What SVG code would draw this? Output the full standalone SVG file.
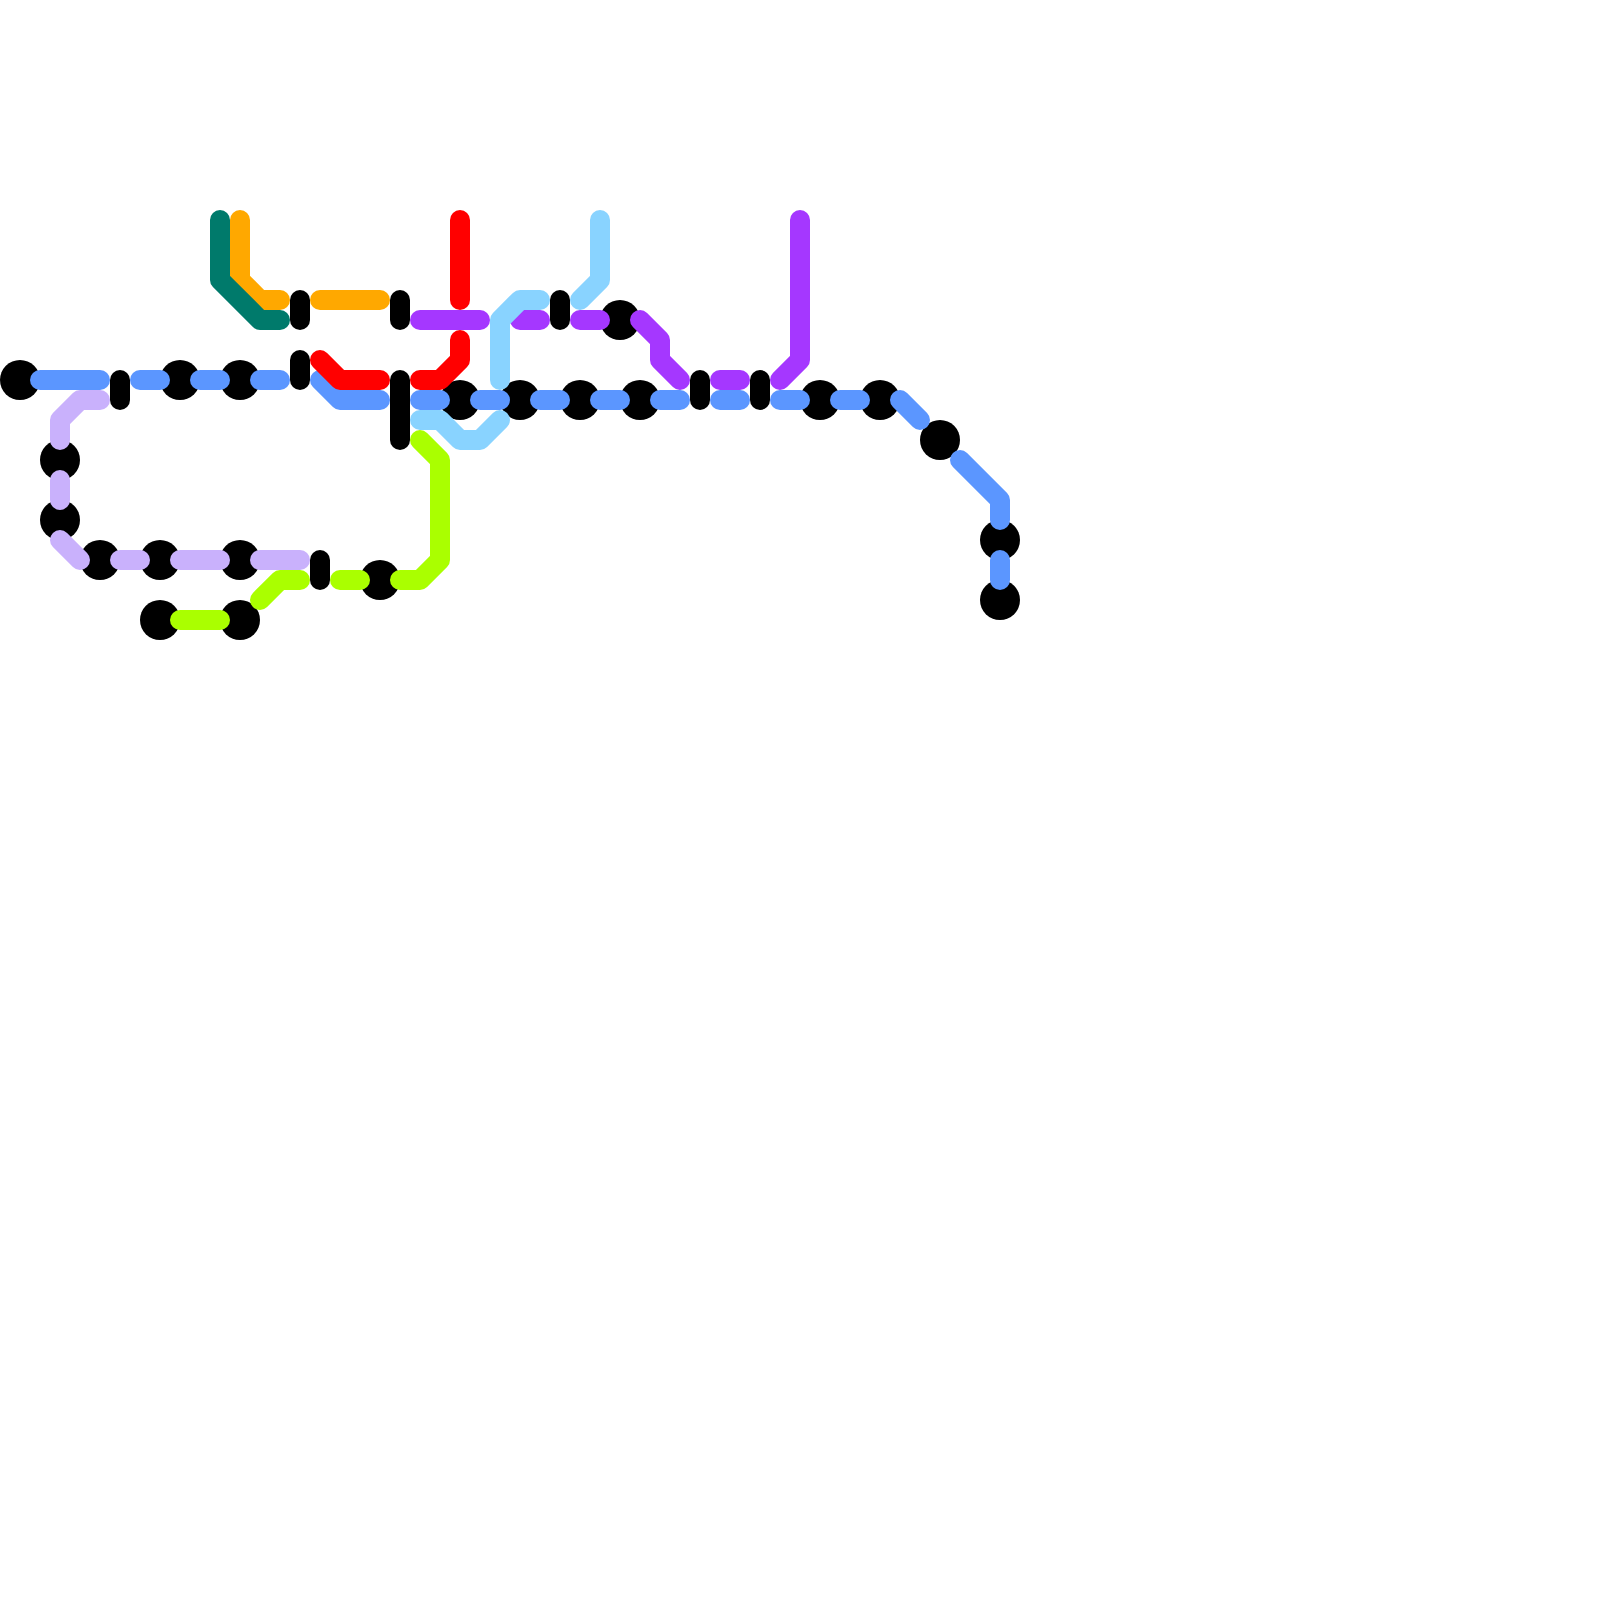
<svg xmlns="http://www.w3.org/2000/svg" width="1600" height="1600" viewBox="0 0 1600 1600">
<style>
.stn{fill:#000}
.bar{stroke:#000;stroke-width:20;stroke-linecap:round;fill:none}
#connectors path{fill:none;stroke-width:20;stroke-linecap:round;stroke-linejoin:round}
.blue{stroke:#5b96ff}
.lilac{stroke:#c9b1fc}
.lime{stroke:#aaff00}
.teal{stroke:#007a6b}
.orange{stroke:#ffa800}
.red{stroke:#ff0000}
.purple{stroke:#a537ff}
.sky{stroke:#89d3ff}
</style>
<rect width="1600" height="1600" fill="#fff"/>
<g id="stations">
<g id="s1"><circle class="stn" cx="20" cy="380" r="20"/></g>
<g id="s2"><circle class="stn" cx="180" cy="380" r="20"/></g>
<g id="s3"><circle class="stn" cx="240" cy="380" r="20"/></g>
<g id="s4"><circle class="stn" cx="60" cy="460" r="20"/></g>
<g id="s5"><circle class="stn" cx="60" cy="520" r="20"/></g>
<g id="s6"><circle class="stn" cx="100" cy="560" r="20"/></g>
<g id="s7"><circle class="stn" cx="160" cy="560" r="20"/></g>
<g id="s8"><circle class="stn" cx="240" cy="560" r="20"/></g>
<g id="s9"><circle class="stn" cx="160" cy="620" r="20"/></g>
<g id="s10"><circle class="stn" cx="240" cy="620" r="20"/></g>
<g id="s11"><circle class="stn" cx="380" cy="580" r="20"/></g>
<g id="s12"><circle class="stn" cx="460" cy="400" r="20"/></g>
<g id="s13"><circle class="stn" cx="520" cy="400" r="20"/></g>
<g id="s14"><circle class="stn" cx="580" cy="400" r="20"/></g>
<g id="s15"><circle class="stn" cx="640" cy="400" r="20"/></g>
<g id="s16"><circle class="stn" cx="620" cy="320" r="20"/></g>
<g id="s17"><circle class="stn" cx="820" cy="400" r="20"/></g>
<g id="s18"><circle class="stn" cx="880" cy="400" r="20"/></g>
<g id="s19"><circle class="stn" cx="940" cy="440" r="20"/></g>
<g id="s20"><circle class="stn" cx="1000" cy="540" r="20"/></g>
<g id="s21"><circle class="stn" cx="1000" cy="600" r="20"/></g>
<g id="b1"><path class="bar" d="M120 380V400"/></g>
<g id="b2"><path class="bar" d="M300 300V320"/></g>
<g id="b3"><path class="bar" d="M400 300V320"/></g>
<g id="b4"><path class="bar" d="M300 360V380"/></g>
<g id="b5"><path class="bar" d="M400 380V440"/></g>
<g id="b6"><path class="bar" d="M320 560V580"/></g>
<g id="b7"><path class="bar" d="M560 300V320"/></g>
<g id="b8"><path class="bar" d="M700 380V400"/></g>
<g id="b9"><path class="bar" d="M760 380V400"/></g>
</g>
<g id="connectors">
<path class="purple" d="M420 320H480"/>
<path class="purple" d="M520 320H540"/>
<path class="purple" d="M580 320H600"/>
<path class="purple" d="M640 320L660 340V360L680 380"/>
<path class="purple" d="M720 380H740"/>
<path class="purple" d="M780 380L800 360V220"/>
<path class="sky" d="M600 220V280L580 300"/>
<path class="sky" d="M500 380V320L520 300H540"/>
<path class="sky" d="M420 420H440L460 440H480L500 420"/>
<path class="orange" d="M240 220V280L260 300H280"/>
<path class="orange" d="M320 300H380"/>
<path class="teal" d="M220 220V280L260 320H280"/>
<path class="blue" d="M40 380H100"/>
<path class="blue" d="M140 380H160"/>
<path class="blue" d="M200 380H220"/>
<path class="blue" d="M260 380H280"/>
<path class="blue" d="M320 380L340 400H380"/>
<path class="blue" d="M420 400H440"/>
<path class="blue" d="M480 400H500"/>
<path class="blue" d="M540 400H560"/>
<path class="blue" d="M600 400H620"/>
<path class="blue" d="M660 400H680"/>
<path class="blue" d="M720 400H740"/>
<path class="blue" d="M780 400H800"/>
<path class="blue" d="M840 400H860"/>
<path class="blue" d="M900 400L920 420"/>
<path class="blue" d="M960 460L1000 500V520"/>
<path class="blue" d="M1000 560V580"/>
<path class="red" d="M460 220V300"/>
<path class="red" d="M460 340V360L440 380H420"/>
<path class="red" d="M320 360L340 380H380"/>
<path class="lilac" d="M100 400H80L60 420V440"/>
<path class="lilac" d="M60 480V500"/>
<path class="lilac" d="M60 540L80 560"/>
<path class="lilac" d="M120 560H140"/>
<path class="lilac" d="M180 560H220"/>
<path class="lilac" d="M260 560H300"/>
<path class="lime" d="M180 620H220"/>
<path class="lime" d="M260 600L280 580H300"/>
<path class="lime" d="M340 580H360"/>
<path class="lime" d="M400 580H420L440 560V460L420 440"/>
</g>
</svg>
